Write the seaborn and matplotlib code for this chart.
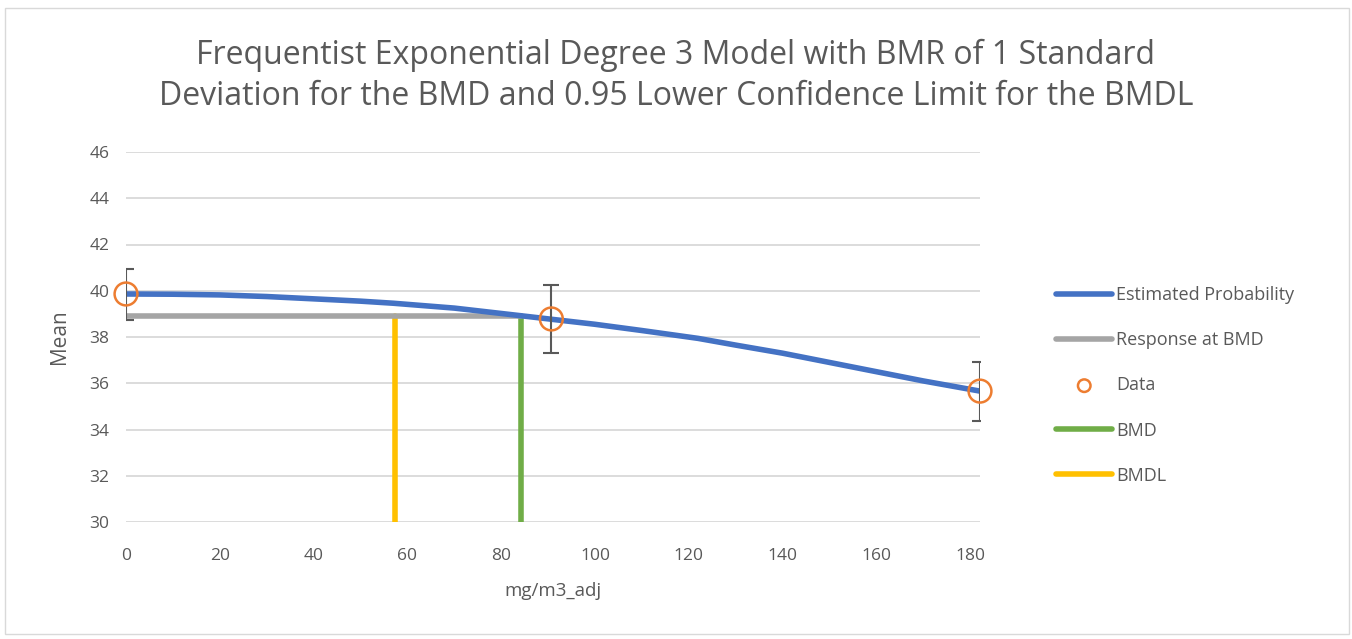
import matplotlib.pyplot as plt
import seaborn as sns
import pandas as pd
from matplotlib.patches import Rectangle

# values
curve_dose = [0, 10, 20, 30, 40, 50, 57, 70, 84.2, 100, 110, 122, 130, 140, 150, 160, 170, 182.1]
curve_mean = [39.86, 39.85, 39.82, 39.75, 39.65, 39.55, 39.46, 39.25, 38.92, 38.55, 38.28,
              37.94, 37.65, 37.3, 36.9, 36.5, 36.1, 35.66]

data_dose = [0, 90.7, 182.1]
data_mean = [39.86, 38.78, 35.66]
err_low = [38.74, 37.3, 34.37]
err_high = [40.95, 40.25, 36.92]

bmd = 84.2
bmdl = 57.4
bmd_response = 38.92

title = ("Frequentist Exponential Degree 3 Model with BMR of 1 Standard\n"
         "Deviation for the BMD and 0.95 Lower Confidence Limit for the BMDL")

sns.set_theme(style="white")
plt.rcParams["font.family"] = ["Open Sans", "DejaVu Sans"]
txt = "#595959"

fig = plt.figure(figsize=(13.52, 6.39), dpi=100)
ax = fig.add_axes([126 / 1352, 1 - 522 / 639, (980 - 126) / 1352, (522 - 152) / 639])

curve = pd.DataFrame({"dose": curve_dose, "mean": curve_mean})
sns.lineplot(data=curve, x="dose", y="mean", color="#4472C4", lw=4,
             ax=ax, label="Estimated Probability", zorder=4)

resp = pd.DataFrame({"dose": [0, bmd], "mean": [bmd_response, bmd_response]})
sns.lineplot(data=resp, x="dose", y="mean", color="#A5A5A5", lw=4,
             ax=ax, label="Response at BMD", zorder=3)

yerr = [[m - lo for m, lo in zip(data_mean, err_low)],
        [hi - m for m, hi in zip(data_mean, err_high)]]
ax.errorbar(data_dose, data_mean, yerr=yerr, fmt="none", ecolor="#595959",
            elinewidth=1.5, capsize=6, capthick=1.5, zorder=5)
pts = pd.DataFrame({"dose": data_dose, "mean": data_mean})
sns.scatterplot(data=pts, x="dose", y="mean", s=270, facecolor="none",
                edgecolor="#ED7D31", linewidth=1.8, ax=ax, label="Data",
                zorder=6, clip_on=False)

bmd_df = pd.DataFrame({"dose": [bmd, bmd], "mean": [30, bmd_response]})
sns.lineplot(data=bmd_df, x="dose", y="mean", color="#70AD47", lw=4,
             estimator=None, sort=False, ax=ax, label="BMD", zorder=2)
bmdl_df = pd.DataFrame({"dose": [bmdl, bmdl], "mean": [30, bmd_response]})
sns.lineplot(data=bmdl_df, x="dose", y="mean", color="#FFC000", lw=4,
             estimator=None, sort=False, ax=ax, label="BMDL", zorder=2)

ax.set_xlim(0, 182.1)
ax.set_ylim(30, 46)
ax.set_xticks(range(0, 181, 20))
ax.set_yticks(range(30, 47, 2))
ax.grid(axis="y", color="#D9D9D9", lw=1.3)
ax.set_axisbelow(True)
for s in ax.spines.values():
    s.set_visible(False)
ax.tick_params(axis="both", length=0, labelsize=12.5, labelcolor=txt)
ax.tick_params(axis="x", pad=19)
ax.tick_params(axis="y", pad=12)
ax.set_xlabel("mg/m3_adj", fontsize=13.5, color=txt, labelpad=13)
ax.set_ylabel("Mean", fontsize=15, color=txt, labelpad=14)

fig.text(0.5, 1 - 76 / 639, title, ha="center", va="center", fontsize=23,
         color=txt, linespacing=1.35)

handles, labels = ax.get_legend_handles_labels()
ax.legend_.remove()
leg = fig.legend(handles, labels, loc="upper left",
                 bbox_to_anchor=(1040 / 1352, 1 - 270 / 639), frameon=False,
                 fontsize=13, labelcolor=txt, handlelength=3.1, labelspacing=1.5,
                 handletextpad=0.2, markerscale=0.55)

fig.patches.append(Rectangle((5 / 1352, 5 / 639), 1344 / 1352, 626 / 639,
                             transform=fig.transFigure, fill=False,
                             edgecolor="#D9D9D9", lw=1))

fig.savefig("out.png", dpi=100)
